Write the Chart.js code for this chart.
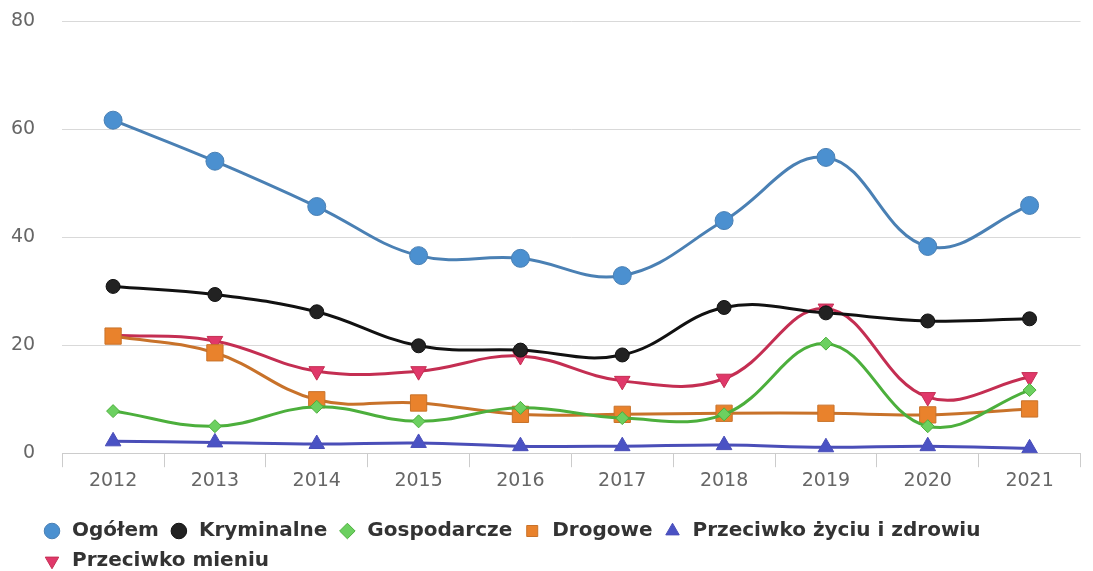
<!DOCTYPE html>
<html lang="pl">
<head>
  <meta charset="UTF-8" />
  <title>Przestępstwa</title>
  <style>
    html, body { margin: 0; padding: 0; background: #fff; }
    #wrap { width: 1093px; height: 571px; }
  </style>
</head>
<body>
  <div id="wrap"><canvas id="chart"></canvas></div>

  <script src="https://cdn.jsdelivr.net/npm/chart.js"></script>
  <script>
    const years = ['2012', '2013', '2014', '2015', '2016', '2017', '2018', '2019', '2020', '2021'];
    const ogolem = [61.7, 54.1, 45.7, 36.6, 36.1, 32.9, 43.1, 54.8, 38.3, 45.9];
    const kryminalne = [30.9, 29.4, 26.2, 19.9, 19.1, 18.2, 27.0, 26.0, 24.5, 24.9];
    const gospodarcze = [7.8, 5.0, 8.6, 5.9, 8.4, 6.5, 7.2, 20.3, 5.0, 11.7];
    const drogowe = [21.7, 18.6, 9.9, 9.3, 7.2, 7.2, 7.4, 7.4, 7.1, 8.2];
    const zycie = [2.2, 2.0, 1.7, 1.9, 1.3, 1.3, 1.5, 1.1, 1.3, 0.9];
    const mienie = [21.9, 20.8, 15.2, 15.2, 18.0, 13.4, 13.8, 26.8, 10.4, 14.1];
    const yTicks = [0, 20, 40, 60, 80];

    function series(label, data, line, fill, style, radius, rotation) {
      return {
        label: label,
        data: data,
        borderColor: line,
        backgroundColor: fill,
        pointBackgroundColor: fill,
        pointBorderColor: line,
        pointBorderWidth: 1,
        pointStyle: style,
        pointRadius: radius,
        pointRotation: rotation || 0,
        borderWidth: 3,
        tension: 0.4
      };
    }

    // legenda w oryginale jest lekko przesunięta w prawo i w dół
    const legendNudge = {
      id: 'legendNudge',
      afterLayout(chart) {
        chart.legend.left += 31;
        chart.legend.top += 10;
      }
    };

    new Chart(document.getElementById('chart'), {
      type: 'line',
      data: {
        labels: years,
        datasets: [
          series('Ogółem', ogolem, '#4a80b4', '#4b90d0', 'circle', 9),
          series('Kryminalne', kryminalne, '#111111', '#222222', 'circle', 7),
          series('Gospodarcze', gospodarcze, '#4caf3c', '#6cd060', 'rectRot', 6.5),
          series('Drogowe', drogowe, '#c8722a', '#e9822c', 'rect', 11.5),
          series('Przeciwko życiu i zdrowiu', zycie, '#4a4eb8', '#4a52c4', 'triangle', 9),
          series('Przeciwko mieniu', mienie, '#c42e52', '#e0386a', 'triangle', 9, 180)
        ]
      },
      plugins: [legendNudge],
      options: {
        responsive: true,
        maintainAspectRatio: false,
        animation: false,
        layout: { padding: { top: 0, right: 10, left: 1, bottom: 0 } },
        plugins: {
          tooltip: { enabled: false },
          legend: {
            position: 'bottom',
            align: 'start',
            labels: {
              usePointStyle: true,
              boxHeight: 11,
              padding: 10,
              color: '#333',
              font: { family: 'DejaVu Sans', size: 20, weight: 'bold' }
            }
          }
        },
        scales: {
          x: {
            offset: true,
            afterFit: axis => { axis.height += 7; },
            grid: {
              offset: true,
              drawOnChartArea: false,
              drawTicks: true,
              tickLength: 14,
              color: '#cccccc'
            },
            border: { color: '#cccccc' },
            ticks: {
              color: '#666',
              padding: 2,
              font: { family: 'DejaVu Sans', size: 19 }
            }
          },
          y: {
            min: 0,
            max: 80,
            afterBuildTicks: axis => { axis.ticks = yTicks.map(v => ({ value: v })); },
            grid: { color: '#d9d9d9', drawTicks: true, tickLength: 17, tickColor: 'rgba(0,0,0,0)' },
            border: { display: false },
            ticks: {
              color: '#666',
              padding: 10,
              font: { family: 'DejaVu Sans', size: 19 }
            }
          }
        }
      }
    });
  </script>
</body>
</html>
